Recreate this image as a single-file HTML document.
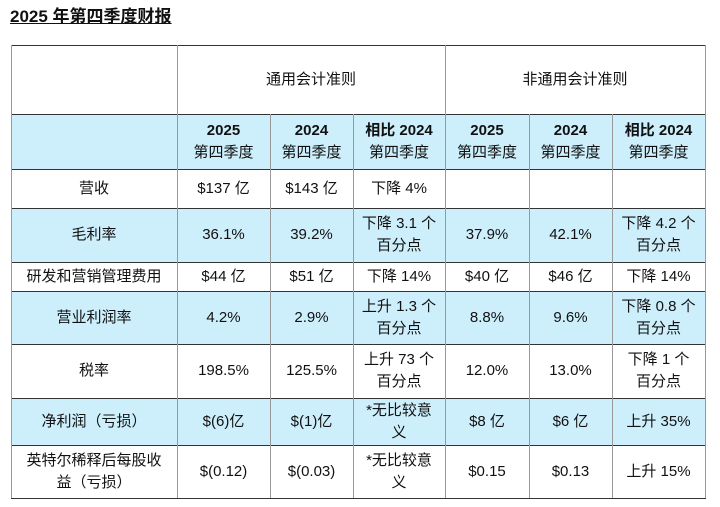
<!DOCTYPE html>
<html><head><meta charset="utf-8"><style>
body{margin:0;width:720px;height:507px;background:#fff;font-family:"Liberation Sans","Noto Sans CJK SC",sans-serif;color:#111;position:relative;overflow:hidden}
.t{position:absolute;left:10px;top:2px;font-size:17px;font-weight:bold;text-decoration:underline}
.c{position:absolute;display:flex;align-items:center;justify-content:center;text-align:center;font-size:15px;line-height:22px;box-sizing:border-box}
.b{background:#cdeefb}
.h{position:absolute;height:1px;background:#333;left:11px;width:695px}
.v{position:absolute;width:1px;background:#999}
</style></head><body>
<div class="t">2025 年第四季度财报</div>
<div id="g"></div>
<script>
var X=[11,177,270,353,445,529,612,705],Y=[45,114,169,208,262,291,344,398,445,498];
var rows=[
["","2025<br>第四季度","2024<br>第四季度","相比 2024<br>第四季度","2025<br>第四季度","2024<br>第四季度","相比 2024<br>第四季度"],
["营收","$137 亿","$143 亿","下降 4%","","",""],
["毛利率","36.1%","39.2%","下降 3.1 个<br>百分点","37.9%","42.1%","下降 4.2 个<br>百分点"],
["研发和营销管理费用","$44 亿","$51 亿","下降 14%","$40 亿","$46 亿","下降 14%"],
["营业利润率","4.2%","2.9%","上升 1.3 个<br>百分点","8.8%","9.6%","下降 0.8 个<br>百分点"],
["税率","198.5%","125.5%","上升 73 个<br>百分点","12.0%","13.0%","下降 1 个<br>百分点"],
["净利润（亏损）","$(6)亿","$(1)亿","*无比较意<br>义","$8 亿","$6 亿","上升 35%"],
["英特尔稀释后每股收<br>益（亏损）","$(0.12)","$(0.03)","*无比较意<br>义","$0.15","$0.13","上升 15%"]];
var h="";
h+='<div class="c" style="left:177px;top:45px;width:268px;height:69px"><span>通用会计准则</span></div>';
h+='<div class="c" style="left:445px;top:45px;width:260px;height:69px"><span>非通用会计准则</span></div>';
for(var r=0;r<rows.length;r++){var blue=(r%2==0);
for(var c=0;c<7;c++){var s=rows[r][c];if(r==0&&c>0)s=s.replace(/^(.*?)<br>/,'<b>$1</b><br>');
h+='<div class="c'+(blue?' b':'')+'" style="left:'+X[c]+'px;top:'+Y[r+1]+'px;width:'+(X[c+1]-X[c])+'px;height:'+(Y[r+2]-Y[r+1])+'px"><span>'+s+'</span></div>';}}
for(var i=0;i<Y.length;i++)h+='<div class="h" style="top:'+Y[i]+'px"></div>';
for(var i=0;i<X.length;i++){var tp=(i==0||i==1||i==4||i==7)?45:114;h+='<div class="v" style="left:'+X[i]+'px;top:'+tp+'px;height:'+(498-tp)+'px"></div>';}
document.getElementById("g").innerHTML=h;
</script>
</body></html>
